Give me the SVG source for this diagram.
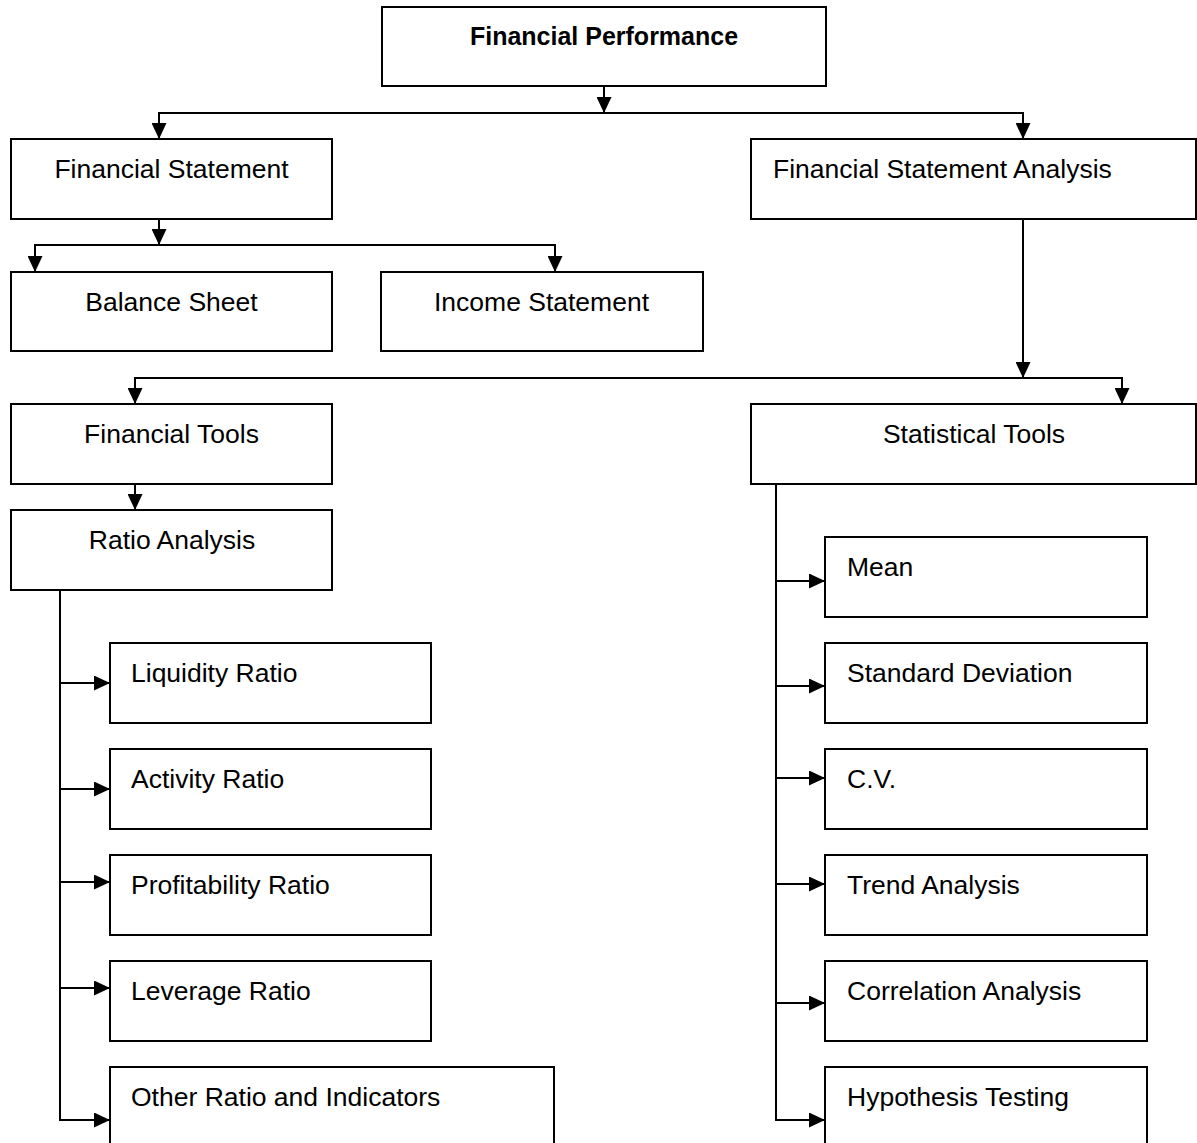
<svg xmlns="http://www.w3.org/2000/svg" width="1197" height="1143" viewBox="0 0 1197 1143">
<style>
.box{fill:#fff;stroke:#000;stroke-width:2}
.t{font-family:"Liberation Sans",Arial,sans-serif;font-size:26.5px;fill:#000}
.c{text-anchor:middle}
.b{font-weight:bold;font-size:25px}
.ln{fill:none;stroke:#000;stroke-width:2}
</style>
<defs>
<marker id="ah" viewBox="0 0 16 15" refX="16" refY="7.5" markerWidth="16" markerHeight="15" markerUnits="userSpaceOnUse" orient="auto">
<path d="M0,0 L16,7.5 L0,15 Z" fill="#000"/>
</marker>
</defs>
<rect width="1197" height="1143" fill="#fff"/>
<g id="connectors">
<line class="ln" x1="604" y1="86" x2="604" y2="113" marker-end="url(#ah)"/>
<polyline class="ln" points="159,139 159,113 1023,113 1023,139" />
<line class="ln" x1="159" y1="123" x2="159" y2="139" marker-end="url(#ah)"/>
<line class="ln" x1="1023" y1="123" x2="1023" y2="139" marker-end="url(#ah)"/>
<line class="ln" x1="159" y1="219" x2="159" y2="245" marker-end="url(#ah)"/>
<polyline class="ln" points="35,272 35,245 555,245 555,272"/>
<line class="ln" x1="35" y1="256" x2="35" y2="272" marker-end="url(#ah)"/>
<line class="ln" x1="555" y1="256" x2="555" y2="272" marker-end="url(#ah)"/>
<line class="ln" x1="1023" y1="219" x2="1023" y2="378" marker-end="url(#ah)"/>
<polyline class="ln" points="135,404 135,378 1122,378 1122,404"/>
<line class="ln" x1="135" y1="388" x2="135" y2="404" marker-end="url(#ah)"/>
<line class="ln" x1="1122" y1="388" x2="1122" y2="404" marker-end="url(#ah)"/>
<line class="ln" x1="135" y1="484" x2="135" y2="510" marker-end="url(#ah)"/>
<polyline class="ln" points="60,590 60,1120 110,1120" marker-end="url(#ah)"/>
<line class="ln" x1="60" y1="683" x2="110" y2="683" marker-end="url(#ah)"/>
<line class="ln" x1="60" y1="789" x2="110" y2="789" marker-end="url(#ah)"/>
<line class="ln" x1="60" y1="882" x2="110" y2="882" marker-end="url(#ah)"/>
<line class="ln" x1="60" y1="988" x2="110" y2="988" marker-end="url(#ah)"/>
<polyline class="ln" points="776,484 776,1120 825,1120" marker-end="url(#ah)"/>
<line class="ln" x1="776" y1="581" x2="825" y2="581" marker-end="url(#ah)"/>
<line class="ln" x1="776" y1="686" x2="825" y2="686" marker-end="url(#ah)"/>
<line class="ln" x1="776" y1="778" x2="825" y2="778" marker-end="url(#ah)"/>
<line class="ln" x1="776" y1="884" x2="825" y2="884" marker-end="url(#ah)"/>
<line class="ln" x1="776" y1="1003" x2="825" y2="1003" marker-end="url(#ah)"/>
</g>
<g id="financial-performance"><rect class="box" x="382" y="7" width="444" height="79"/><text class="t c b" x="604" y="45">Financial Performance</text></g>
<g id="financial-statement"><rect class="box" x="11" y="139" width="321" height="80"/><text class="t c" x="171.5" y="178">Financial Statement</text></g>
<g id="financial-statement-analysis"><rect class="box" x="751" y="139" width="445" height="80"/><text class="t" x="773" y="178">Financial Statement Analysis</text></g>
<g id="balance-sheet"><rect class="box" x="11" y="272" width="321" height="79"/><text class="t c" x="171.5" y="311">Balance Sheet</text></g>
<g id="income-statement"><rect class="box" x="381" y="272" width="322" height="79"/><text class="t c" x="541.5" y="311">Income Statement</text></g>
<g id="financial-tools"><rect class="box" x="11" y="404" width="321" height="80"/><text class="t c" x="171.5" y="443">Financial Tools</text></g>
<g id="statistical-tools"><rect class="box" x="751" y="404" width="445" height="80"/><text class="t c" x="974" y="443">Statistical Tools</text></g>
<g id="ratio-analysis"><rect class="box" x="11" y="510" width="321" height="80"/><text class="t c" x="172" y="549">Ratio Analysis</text></g>
<g id="liquidity-ratio"><rect class="box" x="110" y="643" width="321" height="80"/><text class="t" x="131" y="682">Liquidity Ratio</text></g>
<g id="activity-ratio"><rect class="box" x="110" y="749" width="321" height="80"/><text class="t" x="131" y="788">Activity Ratio</text></g>
<g id="profitability-ratio"><rect class="box" x="110" y="855" width="321" height="80"/><text class="t" x="131" y="894">Profitability Ratio</text></g>
<g id="leverage-ratio"><rect class="box" x="110" y="961" width="321" height="80"/><text class="t" x="131" y="1000">Leverage Ratio</text></g>
<g id="other-ratio"><rect class="box" x="110" y="1067" width="444" height="90"/><text class="t" x="131" y="1106">Other Ratio and Indicators</text></g>
<g id="mean"><rect class="box" x="825" y="537" width="322" height="80"/><text class="t" x="847" y="576">Mean</text></g>
<g id="standard-deviation"><rect class="box" x="825" y="643" width="322" height="80"/><text class="t" x="847" y="682">Standard Deviation</text></g>
<g id="cv"><rect class="box" x="825" y="749" width="322" height="80"/><text class="t" x="847" y="788">C.V.</text></g>
<g id="trend-analysis"><rect class="box" x="825" y="855" width="322" height="80"/><text class="t" x="847" y="894">Trend Analysis</text></g>
<g id="correlation-analysis"><rect class="box" x="825" y="961" width="322" height="80"/><text class="t" x="847" y="1000">Correlation Analysis</text></g>
<g id="hypothesis-testing"><rect class="box" x="825" y="1067" width="322" height="90"/><text class="t" x="847" y="1106">Hypothesis Testing</text></g>
</svg>
